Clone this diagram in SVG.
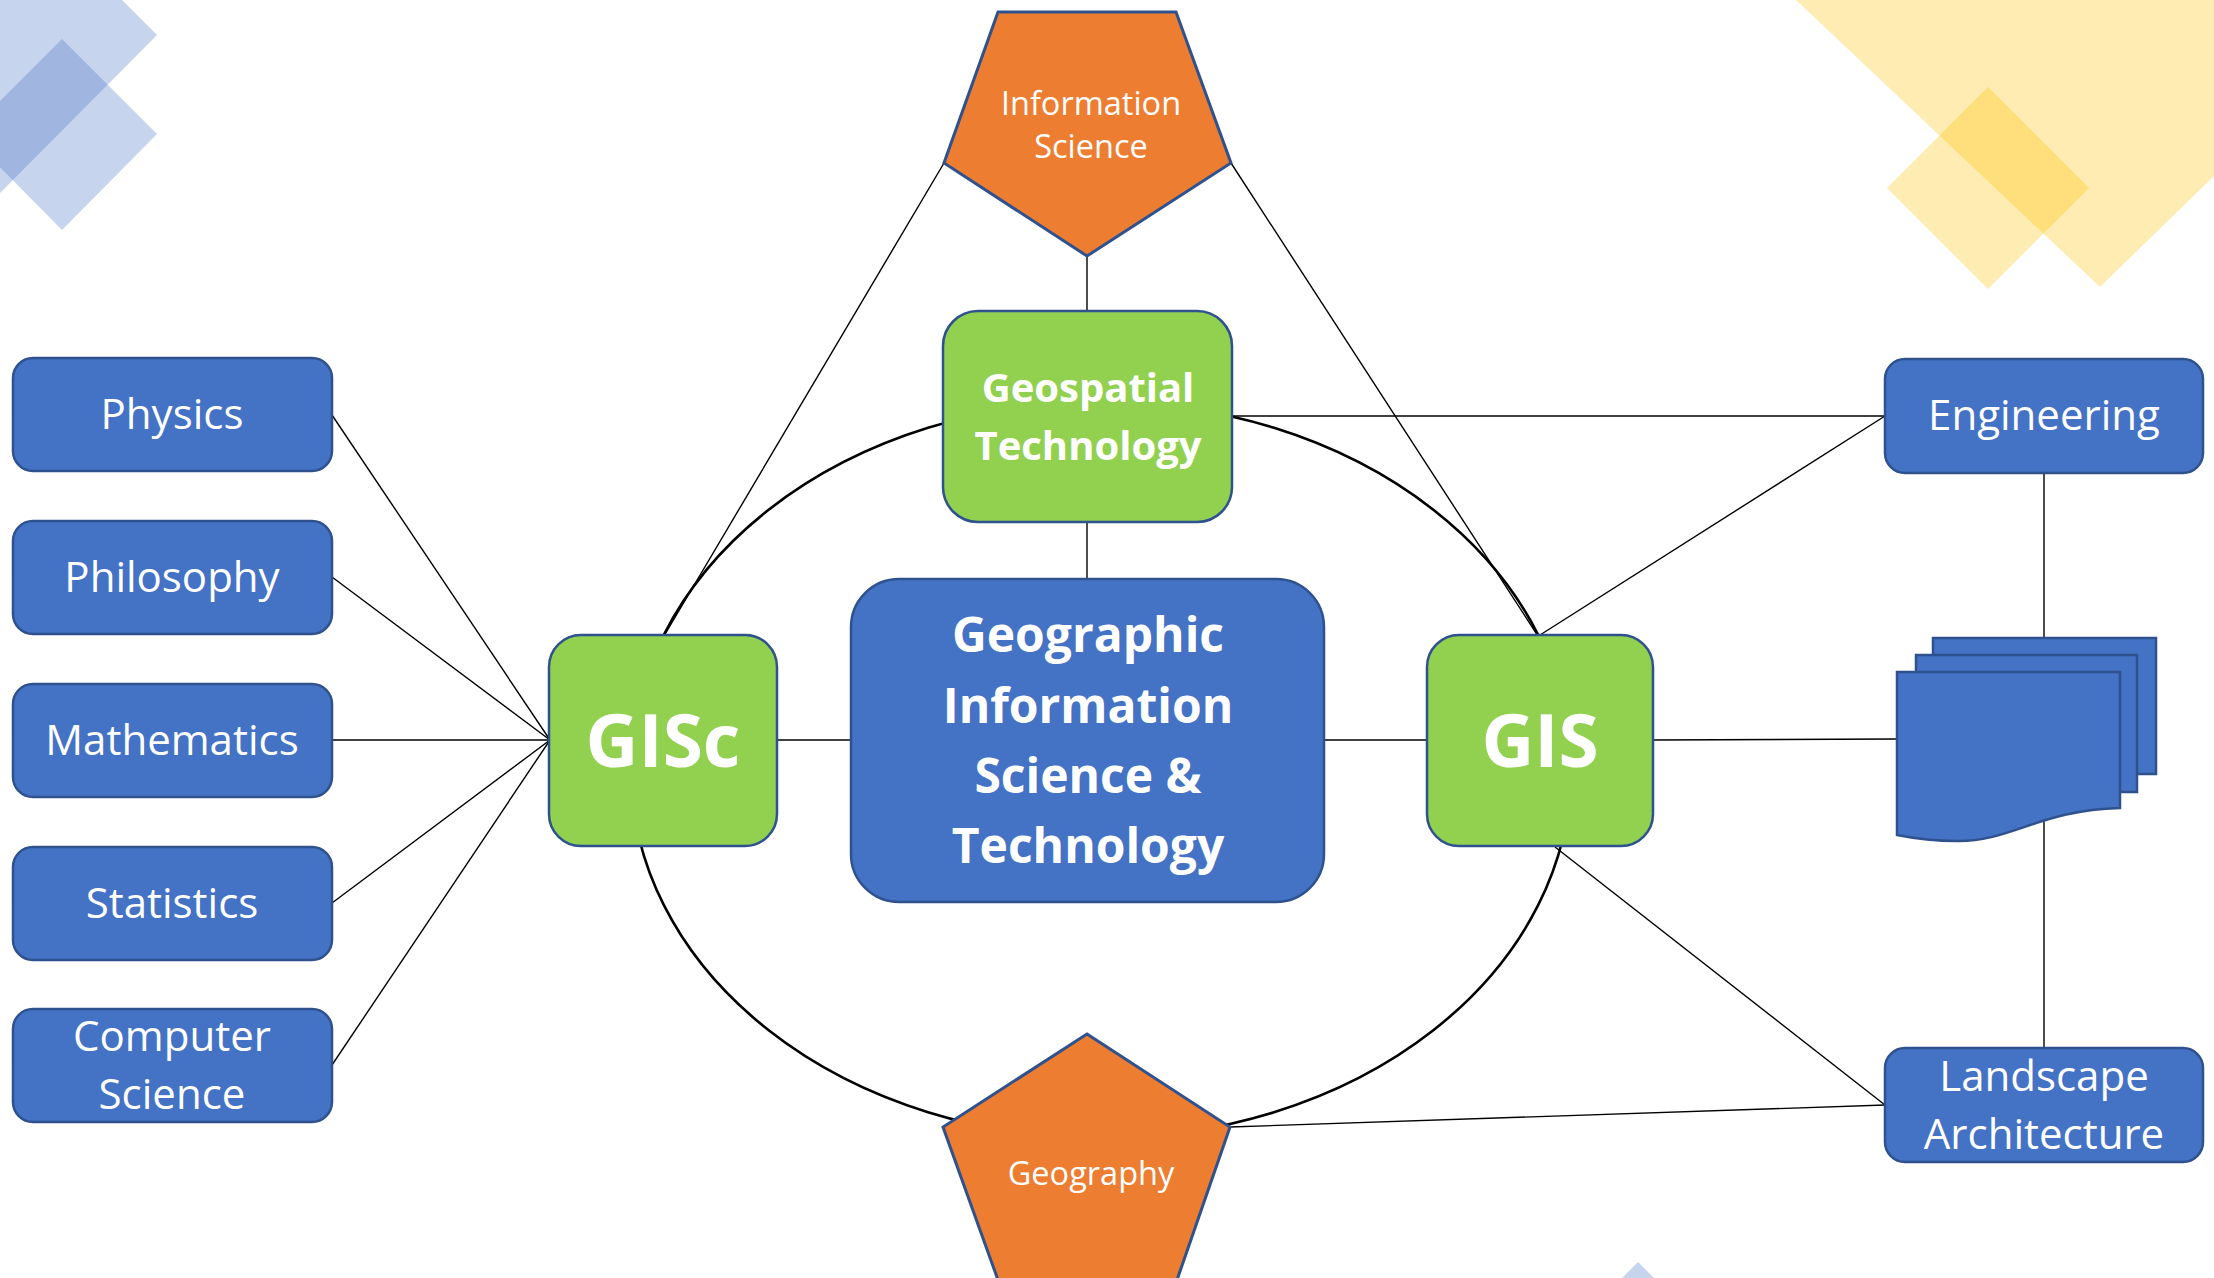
<svg xmlns="http://www.w3.org/2000/svg" width="2214" height="1278" viewBox="0 0 2214 1278">
<style>
.bg{fill:#fff}
.deco-b{fill:#4472C4;fill-opacity:0.3}
.deco-y{fill:#FFC000;fill-opacity:0.3}
.blue{fill:#4472C4;stroke:#2F528F;stroke-width:2.5}
.green{fill:#92D050;stroke:#2F528F;stroke-width:2.5}
.orange{fill:#ED7D31;stroke:#2F528F;stroke-width:3}
.conn line{stroke:#000;stroke-width:1.4}
.ring{fill:none;stroke:#000;stroke-width:2.6}
text{font-family:"Open Sans","Noto Sans","Liberation Sans",sans-serif;fill:#fff;text-anchor:middle}
.t41{font-size:42px}
.t31{font-size:32.5px}
.b46{font-size:48px;font-weight:bold}
.b38{font-size:40px;font-weight:bold}
.b66{font-size:73px;font-weight:bold}
</style>
<rect class="bg" x="0" y="0" width="2214" height="1278"/>
<g id="decoration">
<polygon class="deco-b" points="0,0 122,0 157,35 0,193"/>
<polygon class="deco-b" points="62,39 157,134 62,230 -33,134"/>
<polygon class="deco-y" points="1796,0 2214,0 2214,176 2100,287"/>
<polygon class="deco-y" points="1988,87 2089,188 1988,289 1887,188"/>
<polygon class="deco-b" points="1638,1262 1655,1279 1621,1279"/>
</g>
<g id="connectors" class="conn">
<ellipse class="ring" cx="1101" cy="770" rx="470" ry="368"/>
<line x1="332" y1="415" x2="550" y2="740"/>
<line x1="332" y1="577" x2="550" y2="740"/>
<line x1="332" y1="740" x2="550" y2="740"/>
<line x1="332" y1="903" x2="550" y2="740"/>
<line x1="332" y1="1065" x2="550" y2="740"/>
<line x1="777" y1="740" x2="851" y2="740"/>
<line x1="1324" y1="740" x2="1427" y2="740"/>
<line x1="1087" y1="579" x2="1087" y2="522"/>
<line x1="1087" y1="311" x2="1087" y2="256"/>
<line x1="944" y1="163" x2="664" y2="636"/>
<line x1="1231" y1="163" x2="1538" y2="636"/>
<line x1="1232" y1="416" x2="1885" y2="416"/>
<line x1="1540" y1="635" x2="1885" y2="416"/>
<line x1="1653" y1="740" x2="1897" y2="739"/>
<line x1="1555" y1="847" x2="1885" y2="1105"/>
<line x1="1230" y1="1127" x2="1885" y2="1105"/>
<line x1="2044" y1="473" x2="2044" y2="638"/>
<line x1="2044" y1="820" x2="2044" y2="1048"/>
</g>
<g id="physics"><rect class="blue" x="13" y="358" width="319" height="113" rx="20"/><text class="t41" x="172" y="429">Physics</text></g>
<g id="philosophy"><rect class="blue" x="13" y="521" width="319" height="113" rx="20"/><text class="t41" x="172" y="592">Philosophy</text></g>
<g id="mathematics"><rect class="blue" x="13" y="684" width="319" height="113" rx="20"/><text class="t41" x="172" y="755">Mathematics</text></g>
<g id="statistics"><rect class="blue" x="13" y="847" width="319" height="113" rx="20"/><text class="t41" x="172" y="918">Statistics</text></g>
<g id="computer-science"><rect class="blue" x="13" y="1009" width="319" height="113" rx="20"/><text class="t41" x="172" y="1051">Computer</text><text class="t41" x="172" y="1109">Science</text></g>
<g id="gisc"><rect class="green" x="549" y="635" width="228" height="211" rx="32"/><text class="b66" x="663" y="767">GISc</text></g>
<g id="gist"><rect class="blue" x="851" y="579" width="473" height="323" rx="48"/><text class="b46" x="1088" y="652">Geographic</text><text class="b46" x="1088" y="723">Information</text><text class="b46" x="1088" y="793">Science &amp;</text><text class="b46" x="1088" y="863">Technology</text></g>
<g id="gis"><rect class="green" x="1427" y="635" width="226" height="211" rx="32"/><text class="b66" x="1540" y="767">GIS</text></g>
<g id="geospatial-technology"><rect class="green" x="943" y="311" width="289" height="211" rx="35"/><text class="b38" x="1088" y="402">Geospatial</text><text class="b38" x="1088" y="460">Technology</text></g>
<g id="information-science"><polygon class="orange" points="998,12 1176,12 1231,163 1087,256 944,163"/><text class="t31" x="1091" y="115">Information</text><text class="t31" x="1091" y="158">Science</text></g>
<g id="geography"><polygon class="orange" points="1087,1034 1230,1127 1177,1280 998,1280 943,1127"/><text class="t31" x="1091" y="1185">Geography</text></g>
<g id="engineering"><rect class="blue" x="1885" y="359" width="318" height="114" rx="20"/><text class="t41" x="2044" y="430">Engineering</text></g>
<g id="documents">
<rect class="blue" x="1933" y="638" width="223" height="136" stroke-width="2"/>
<rect class="blue" x="1916" y="655" width="221" height="137" stroke-width="2"/>
<path class="blue" stroke-width="2" d="M1897,672 H2120 V808 C2040,810 2010,842 1957,841 C1930,841 1912,838 1897,835 Z"/>
</g>
<g id="landscape-architecture"><rect class="blue" x="1885" y="1048" width="318" height="114" rx="20"/><text class="t41" x="2044" y="1091">Landscape</text><text class="t41" x="2044" y="1149">Architecture</text></g>
</svg>
